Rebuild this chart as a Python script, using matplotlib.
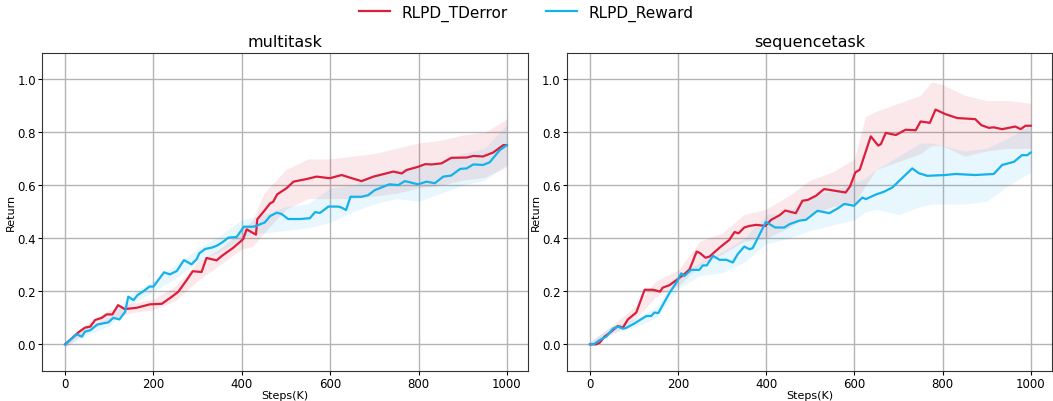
import numpy as np
import matplotlib
matplotlib.use("Agg")
import matplotlib.pyplot as plt

RED = "#dc1e3c"
BLUE = "#14b2ec"

# ---- multitask ----
multi_td_x = [0, 30, 45, 57, 68, 83, 94, 107, 120, 135, 162, 192, 219, 241, 256, 275, 289, 309,
              320, 343, 355, 381, 403, 411, 432, 435, 449, 464, 471, 480, 501, 517, 547, 569,
              599, 626, 649, 671, 698, 743, 762, 773, 799, 815, 830, 852, 874, 909, 924, 946,
              969, 992, 1000]
multi_td_y = [0.0, 0.045, 0.063, 0.067, 0.092, 0.100, 0.113, 0.113, 0.148, 0.133, 0.138, 0.151,
              0.153, 0.179, 0.198, 0.242, 0.276, 0.273, 0.326, 0.317, 0.334, 0.365, 0.397, 0.434,
              0.414, 0.472, 0.500, 0.532, 0.538, 0.566, 0.589, 0.614, 0.624, 0.633, 0.627, 0.639,
              0.627, 0.616, 0.633, 0.652, 0.645, 0.658, 0.670, 0.680, 0.679, 0.683, 0.704, 0.705,
              0.711, 0.709, 0.724, 0.752, 0.752]
multi_rw_x = [0, 26, 38, 45, 57, 73, 98, 109, 123, 136, 143, 155, 164, 177, 191, 200, 224, 237,
              253, 269, 286, 298, 304, 317, 332, 343, 355, 370, 388, 405, 426, 437, 452, 464,
              479, 490, 505, 532, 554, 566, 577, 596, 618, 626, 636, 646, 671, 686, 701, 734,
              754, 769, 799, 818, 837, 856, 874, 894, 909, 924, 946, 961, 984, 1000]
multi_rw_y = [0.0, 0.038, 0.029, 0.048, 0.053, 0.075, 0.083, 0.100, 0.094, 0.123, 0.180, 0.167,
              0.186, 0.200, 0.218, 0.218, 0.272, 0.264, 0.277, 0.318, 0.302, 0.322, 0.344, 0.360,
              0.365, 0.372, 0.384, 0.403, 0.405, 0.444, 0.444, 0.450, 0.460, 0.484, 0.497, 0.492,
              0.473, 0.473, 0.476, 0.499, 0.496, 0.520, 0.520, 0.516, 0.507, 0.557, 0.557, 0.563,
              0.582, 0.604, 0.601, 0.616, 0.604, 0.614, 0.608, 0.633, 0.637, 0.662, 0.664, 0.679,
              0.677, 0.687, 0.733, 0.752]
multi_band_x = [0, 50, 100, 150, 200, 250, 300, 350, 400, 425, 450, 500, 550, 600, 650, 700,
                750, 800, 850, 900, 950, 1000]
multi_td_lo = [-0.01, 0.05, 0.09, 0.12, 0.13, 0.165, 0.24, 0.30, 0.36, 0.37, 0.42, 0.51, 0.55,
               0.55, 0.55, 0.56, 0.57, 0.59, 0.60, 0.62, 0.63, 0.67]
multi_td_hi = [0.01, 0.08, 0.13, 0.155, 0.17, 0.22, 0.31, 0.36, 0.43, 0.47, 0.57, 0.66, 0.70,
               0.70, 0.71, 0.72, 0.74, 0.76, 0.77, 0.79, 0.80, 0.85]
multi_rw_lo = [-0.01, 0.035, 0.07, 0.15, 0.20, 0.25, 0.31, 0.35, 0.40, 0.42, 0.42, 0.43, 0.44,
               0.46, 0.50, 0.53, 0.55, 0.54, 0.57, 0.60, 0.62, 0.68]
multi_rw_hi = [0.01, 0.065, 0.10, 0.19, 0.24, 0.30, 0.36, 0.41, 0.47, 0.48, 0.49, 0.52, 0.53,
               0.59, 0.60, 0.64, 0.66, 0.67, 0.69, 0.72, 0.74, 0.83]

# ---- sequencetask ----
seq_td_x = [0, 14, 22, 33, 45, 52, 63, 75, 78, 86, 105, 124, 143, 159, 165, 180, 199, 214, 226,
            242, 250, 262, 271, 294, 316, 328, 337, 350, 362, 377, 398, 411, 430, 443, 467, 482,
            494, 513, 531, 543, 580, 590, 602, 612, 637, 654, 660, 671, 694, 716, 739, 750, 771,
            784, 806, 833, 874, 888, 905, 916, 935, 965, 977, 988, 1000]
seq_td_y = [0.0, 0.0, 0.006, 0.029, 0.044, 0.054, 0.069, 0.063, 0.072, 0.094, 0.120, 0.206,
            0.206, 0.199, 0.214, 0.223, 0.246, 0.265, 0.283, 0.350, 0.344, 0.327, 0.331, 0.365,
            0.394, 0.424, 0.419, 0.441, 0.447, 0.451, 0.447, 0.470, 0.487, 0.505, 0.495, 0.542,
            0.545, 0.561, 0.586, 0.583, 0.573, 0.596, 0.649, 0.659, 0.785, 0.750, 0.756, 0.798,
            0.790, 0.810, 0.808, 0.841, 0.836, 0.886, 0.869, 0.854, 0.850, 0.827, 0.817, 0.819,
            0.812, 0.822, 0.812, 0.825, 0.825]
seq_rw_x = [0, 10, 22, 37, 52, 63, 75, 82, 101, 128, 139, 146, 155, 180, 196, 207, 214, 229, 248,
            256, 265, 279, 294, 309, 324, 335, 350, 362, 369, 384, 399, 420, 441, 452, 475, 490,
            516, 543, 562, 577, 599, 618, 626, 648, 667, 686, 731, 746, 765, 806, 829, 874, 916,
            935, 962, 980, 992, 1000]
seq_rw_y = [0.0, 0.002, 0.016, 0.029, 0.059, 0.067, 0.059, 0.062, 0.079, 0.107, 0.107, 0.120,
            0.118, 0.193, 0.233, 0.268, 0.258, 0.281, 0.281, 0.298, 0.298, 0.334, 0.319, 0.319,
            0.309, 0.340, 0.369, 0.359, 0.363, 0.412, 0.462, 0.441, 0.441, 0.453, 0.467, 0.470,
            0.504, 0.495, 0.513, 0.530, 0.523, 0.554, 0.548, 0.565, 0.576, 0.592, 0.664, 0.646,
            0.636, 0.639, 0.643, 0.639, 0.643, 0.677, 0.689, 0.714, 0.714, 0.724]
seq_band_x = [0, 50, 100, 150, 200, 250, 300, 350, 400, 450, 500, 550, 600, 625, 650, 700, 750,
              775, 800, 850, 900, 950, 1000]
seq_td_lo = [-0.005, 0.04, 0.09, 0.18, 0.22, 0.30, 0.34, 0.39, 0.40, 0.44, 0.49, 0.52, 0.53,
             0.60, 0.66, 0.69, 0.72, 0.75, 0.75, 0.71, 0.73, 0.74, 0.74]
seq_td_hi = [0.01, 0.07, 0.14, 0.24, 0.28, 0.39, 0.42, 0.49, 0.51, 0.56, 0.62, 0.65, 0.70,
             0.86, 0.88, 0.91, 0.94, 0.99, 0.98, 0.94, 0.92, 0.92, 0.91]
seq_rw_lo = [-0.005, 0.04, 0.065, 0.10, 0.21, 0.26, 0.27, 0.31, 0.38, 0.40, 0.43, 0.45, 0.47,
             0.50, 0.51, 0.49, 0.52, 0.53, 0.53, 0.53, 0.54, 0.60, 0.65]
seq_rw_hi = [0.01, 0.07, 0.095, 0.14, 0.26, 0.31, 0.35, 0.40, 0.49, 0.50, 0.56, 0.58, 0.61,
             0.63, 0.66, 0.71, 0.76, 0.76, 0.75, 0.73, 0.74, 0.78, 0.83]

panels = [
    ("multitask", multi_band_x,
     (multi_td_x, multi_td_y, multi_td_lo, multi_td_hi),
     (multi_rw_x, multi_rw_y, multi_rw_lo, multi_rw_hi)),
    ("sequencetask", seq_band_x,
     (seq_td_x, seq_td_y, seq_td_lo, seq_td_hi),
     (seq_rw_x, seq_rw_y, seq_rw_lo, seq_rw_hi)),
]

fig = plt.figure(figsize=(10.53, 4.02), dpi=100)
axes = [fig.add_axes([0.040, 0.075, 0.4615, 0.791]),
        fig.add_axes([0.5385, 0.075, 0.4605, 0.791])]

for ax, (title, bx, td, rw) in zip(axes, panels):
    ax.fill_between(bx, td[2], td[3], color=RED, alpha=0.1, lw=0)
    ax.fill_between(bx, rw[2], rw[3], color=BLUE, alpha=0.1, lw=0)
    ax.plot(td[0], td[1], color=RED, lw=1.6, label="RLPD_TDerror")
    ax.plot(rw[0], rw[1], color=BLUE, lw=1.6, label="RLPD_Reward")
    ax.set_xlim(-52, 1048)
    ax.set_ylim(-0.1, 1.1)
    ax.set_xticks([0, 200, 400, 600, 800, 1000])
    ax.set_yticks([0.0, 0.2, 0.4, 0.6, 0.8, 1.0])
    ax.grid(True, color="#b4b4b4", lw=1.0)
    ax.set_axisbelow(True)
    ax.tick_params(labelsize=8.5, length=3, pad=1.5)
    ax.set_title(title, fontsize=11.5, pad=5)
    ax.set_xlabel("Steps(K)", fontsize=8, labelpad=0)
    ax.set_ylabel("Return", fontsize=8, labelpad=1)
    for s in ax.spines.values():
        s.set_color("#333333")

handles, labels = axes[0].get_legend_handles_labels()
fig.legend(handles, labels, loc="upper center", ncol=2, frameon=False,
           fontsize=11, bbox_to_anchor=(0.5, 1.02), columnspacing=2.5)

fig.savefig("out.png", dpi=100)
